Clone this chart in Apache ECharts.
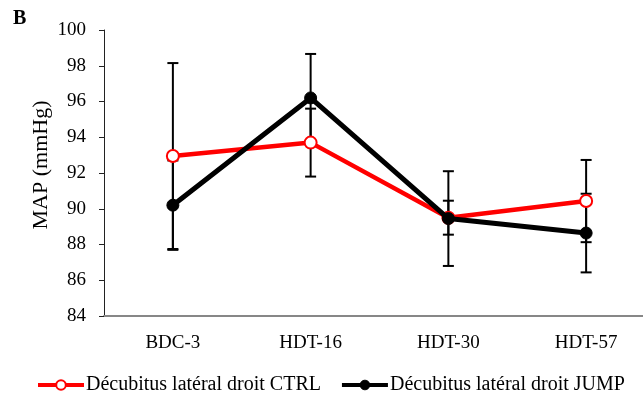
<!DOCTYPE html>
<html>
<head>
<meta charset="utf-8">
<script src="https://cdn.jsdelivr.net/npm/echarts@6/dist/echarts.min.js"></script>
<style>html,body{margin:0;padding:0;background:#fff;overflow:hidden;}#c{width:662px;height:394px;}</style>
</head>
<body>
<div id="c"></div>
<script>
var categories = ['BDC-3', 'HDT-16', 'HDT-30', 'HDT-57'];
var ctrlValues = [92.95, 93.7, 89.5, 90.43];
var ctrlErrors = [5.2, 1.9, 0.95, 2.3];
var jumpValues = [90.2, 96.2, 89.45, 88.64];
var jumpErrors = [2.5, 2.46, 2.65, 2.2];
var yTicks = [84, 86, 88, 90, 92, 94, 96, 98, 100];
var ctrlName = 'Décubitus latéral droit CTRL';
var jumpName = 'Décubitus latéral droit JUMP';

var FONT = 'Liberation Serif';

function errorData(vals, errs) {
  return vals.map(function (v, i) { return [i, v - errs[i], v + errs[i]]; });
}
function renderError(params, api) {
  var x = api.value(0);
  var lo = api.coord([x, api.value(1)]);
  var hi = api.coord([x, api.value(2)]);
  var hw = 5.5;
  var style = { stroke: '#000', lineWidth: 2 };
  return {
    type: 'group',
    children: [
      { type: 'line', shape: { x1: lo[0], y1: lo[1], x2: hi[0], y2: hi[1] }, style: style },
      { type: 'line', shape: { x1: lo[0] - hw, y1: lo[1], x2: lo[0] + hw, y2: lo[1] }, style: style },
      { type: 'line', shape: { x1: hi[0] - hw, y1: hi[1], x2: hi[0] + hw, y2: hi[1] }, style: style }
    ]
  };
}

var chart = echarts.init(document.getElementById('c'), null, { renderer: 'canvas' });
chart.setOption({
  animation: false,
  backgroundColor: '#fff',
  textStyle: { fontFamily: FONT },
  graphic: [{
    type: 'text', left: 13, top: 9,
    style: { text: 'B', font: 'bold 20px "Liberation Serif"', fill: '#000' }
  }],
  grid: { left: 104, top: 30, bottom: 78, right: 7 },
  legend: {
    bottom: -1, left: 36, padding: 0,
    itemWidth: 46, itemHeight: 12, itemGap: 19,
    textStyle: { fontFamily: FONT, fontSize: 20, color: '#000', padding: [0, 0, 0, -3] },
    data: [
      { name: ctrlName, itemStyle: { color: '#fff', borderColor: '#ff0000', borderWidth: 2 }, lineStyle: { color: '#ff0000', width: 4 } },
      { name: jumpName, itemStyle: { color: '#000', borderColor: '#000', borderWidth: 1 }, lineStyle: { color: '#000', width: 4 } }
    ]
  },
  xAxis: {
    type: 'category',
    data: categories,
    boundaryGap: true,
    axisLine: { lineStyle: { color: '#878787', width: 2 } },
    axisTick: { show: false },
    axisLabel: { fontFamily: FONT, fontSize: 19, color: '#000', margin: 18 },
    splitLine: { show: false }
  },
  yAxis: {
    type: 'value',
    min: 84, max: 100, interval: 2,
    name: 'MAP (mmHg)',
    nameLocation: 'middle',
    nameGap: 52,
    nameMoveOverlap: false,
    nameTextStyle: { fontFamily: FONT, fontSize: 22, color: '#000', padding: [0, 0, 0, 16] },
    axisLine: { show: true, lineStyle: { color: '#222', width: 1 } },
    axisTick: { show: true, length: 5, lineStyle: { color: '#222' } },
    axisLabel: { fontFamily: FONT, fontSize: 19, color: '#000', margin: 18,
      formatter: function (v) { return yTicks.indexOf(v) >= 0 ? String(v) : ''; } },
    splitLine: { show: false }
  },
  series: [
    { type: 'custom', name: 'errCtrl', renderItem: renderError, data: errorData(ctrlValues, ctrlErrors), z: 1, silent: true },
    { type: 'custom', name: 'errJump', renderItem: renderError, data: errorData(jumpValues, jumpErrors), z: 1, silent: true },
    {
      type: 'line', name: ctrlName, data: ctrlValues, z: 3,
      symbol: 'circle', symbolSize: 12,
      lineStyle: { color: '#ff0000', width: 4.5 },
      itemStyle: { color: '#fff', borderColor: '#ff0000', borderWidth: 2 }
    },
    {
      type: 'line', name: jumpName, data: jumpValues, z: 4,
      symbol: 'circle', symbolSize: 12,
      lineStyle: { color: '#000', width: 5 },
      itemStyle: { color: '#000', borderColor: '#000', borderWidth: 1 }
    }
  ]
});
</script>
</body>
</html>
